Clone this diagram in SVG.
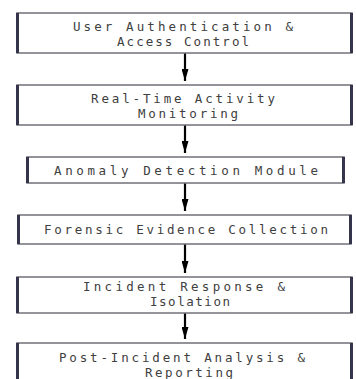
<svg xmlns="http://www.w3.org/2000/svg" width="356" height="379" viewBox="0 0 356 379">
<style>
.box{fill:#ffffff;stroke:#707078;stroke-width:1.5}
.side{stroke:#34344a;stroke-width:3}
.t{font-family:"DejaVu Sans Mono","Liberation Mono",monospace;font-size:12.5px;fill:#404040;text-anchor:middle}
.c{stroke:#000;stroke-width:2.2;fill:none}
</style>
<defs>
<marker id="ah" viewBox="0 0 12 7" refX="12" refY="3.5" markerUnits="userSpaceOnUse" markerWidth="13" markerHeight="7" orient="auto">
<path d="M0,0 L12,3.5 L0,7 Z" fill="#000"/>
</marker>
</defs>
<rect width="356" height="379" fill="#ffffff"/>
<g id="connectors">
<line class="c" x1="185" y1="53" x2="185" y2="81" marker-end="url(#ah)"/>
<line class="c" x1="185" y1="125" x2="185" y2="153" marker-end="url(#ah)"/>
<line class="c" x1="185" y1="183" x2="185" y2="211" marker-end="url(#ah)"/>
<line class="c" x1="185" y1="244" x2="185" y2="273" marker-end="url(#ah)"/>
<line class="c" x1="185" y1="313" x2="185" y2="339" marker-end="url(#ah)"/>
</g>
<g id="n1">
<rect class="box" x="17" y="13" width="335" height="40"/>
<line class="side" x1="17.5" y1="13" x2="17.5" y2="53"/><line class="side" x1="351.5" y1="13" x2="351.5" y2="53"/>
<text class="t" x="183" y="30.5" textLength="220" lengthAdjust="spacing">User Authentication &amp;</text>
<text class="t" x="183" y="45.5" textLength="132" lengthAdjust="spacing">Access Control</text>
</g>
<g id="n2">
<rect class="box" x="17" y="85" width="335" height="40"/>
<line class="side" x1="17.5" y1="85" x2="17.5" y2="125"/><line class="side" x1="351.5" y1="85" x2="351.5" y2="125"/>
<text class="t" x="183" y="102.5" textLength="184" lengthAdjust="spacing">Real-Time Activity</text>
<text class="t" x="188" y="117.5" textLength="100" lengthAdjust="spacing">Monitoring</text>
</g>
<g id="n3">
<rect class="box" x="27" y="157" width="317" height="26"/>
<line class="side" x1="27.5" y1="157" x2="27.5" y2="183"/><line class="side" x1="343.5" y1="157" x2="343.5" y2="183"/>
<text class="t" x="186" y="174.5" textLength="264" lengthAdjust="spacing">Anomaly Detection Module</text>
</g>
<g id="n4">
<rect class="box" x="18" y="215" width="333" height="29"/>
<line class="side" x1="18.5" y1="215" x2="18.5" y2="244"/><line class="side" x1="350.5" y1="215" x2="350.5" y2="244"/>
<text class="t" x="186" y="233.5" textLength="284" lengthAdjust="spacing">Forensic Evidence Collection</text>
</g>
<g id="n5">
<rect class="box" x="17" y="277" width="335" height="36"/>
<line class="side" x1="17.5" y1="277" x2="17.5" y2="313"/><line class="side" x1="351.5" y1="277" x2="351.5" y2="313"/>
<text class="t" x="184" y="291" textLength="202" lengthAdjust="spacing">Incident Response &amp;</text>
<text class="t" x="190" y="305.5" textLength="80" lengthAdjust="spacing">Isolation</text>
</g>
<g id="n6">
<rect class="box" x="17" y="343" width="335" height="50"/>
<line class="side" x1="17.5" y1="343" x2="17.5" y2="393"/><line class="side" x1="351.5" y1="343" x2="351.5" y2="393"/>
<text class="t" x="182" y="362" textLength="246" lengthAdjust="spacing">Post-Incident Analysis &amp;</text>
<text class="t" x="189" y="377" textLength="88" lengthAdjust="spacing">Reporting</text>
</g>
</svg>
